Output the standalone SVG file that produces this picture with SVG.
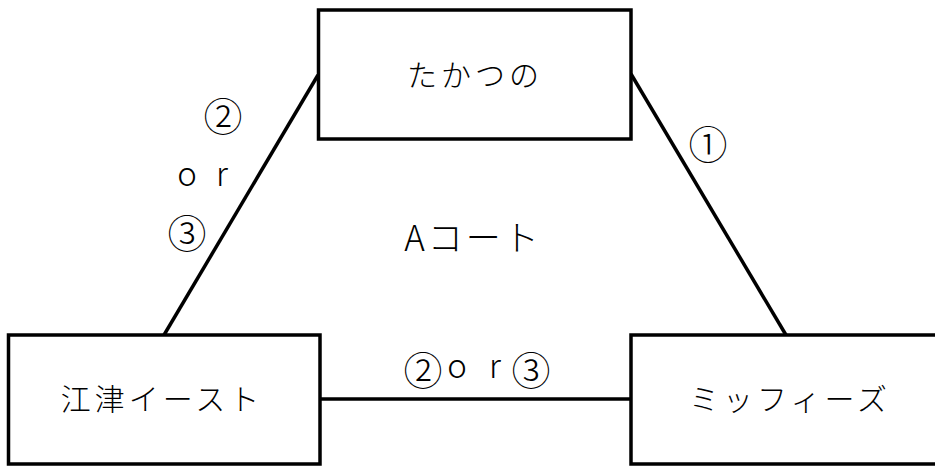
<svg xmlns="http://www.w3.org/2000/svg" width="935" height="466" viewBox="0 0 935 466">
<style>
.box{fill:#fff;stroke:#000;stroke-width:3.5}
.ln{stroke:#000;stroke-width:3.5;fill:none}
text{font-family:"Noto Sans CJK JP","Noto Sans CJK SC",sans-serif;font-weight:300;font-size:30px;fill:#000;text-anchor:middle;dominant-baseline:central}
.c{font-size:39px}
.a{font-size:35px}
.l{font-size:33px;dominant-baseline:auto}
</style>
<rect width="935" height="466" fill="#fff"/>
<g id="connectors">
<line class="ln" x1="318" y1="75" x2="164" y2="335"/>
<line class="ln" x1="631" y1="74" x2="786" y2="335"/>
<line class="ln" x1="320" y1="399" x2="631" y2="399"/>
</g>
<g id="takatsuno">
<rect class="box" x="318.5" y="10" width="312.5" height="129"/>
<text x="475" y="73" letter-spacing="4">たかつの</text>
</g>
<g id="gotsu-east">
<rect class="box" x="8.5" y="335" width="311.5" height="129"/>
<text x="162" y="397" letter-spacing="4">江津イースト</text>
</g>
<g id="miffys">
<rect class="box" x="631" y="335" width="320" height="129"/>
<text x="790" y="397" letter-spacing="4">ミッフィーズ</text>
</g>
<g id="labels">
<text class="c" x="223" y="114">②</text>
<text class="l" x="187" y="186">o</text>
<text class="l" x="222" y="186">r</text>
<text class="c" x="187" y="231">③</text>
<text class="c" x="708" y="142">①</text>
<text class="a" x="473" y="235" letter-spacing="3">Aコート</text>
<text class="c" x="423" y="368">②</text>
<text class="l" x="457" y="378">o</text>
<text class="l" x="495" y="378">r</text>
<text class="c" x="531" y="368">③</text>
</g>
</svg>
